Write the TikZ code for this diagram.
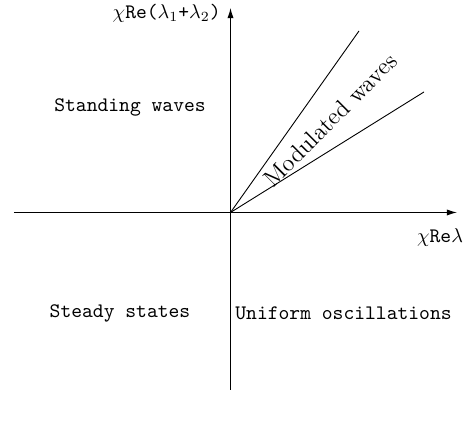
\documentclass[tikz,border=0pt]{standalone}
\usepackage{amsmath,amssymb}
\usepackage{tikz}
\usetikzlibrary{positioning,calc}
\usetikzlibrary{arrows.meta}
\tikzset{
  axis/.style={draw=black,line width=0.5pt,-{Latex[length=1.8mm,width=1.1mm]}},
  border/.style={draw=black,line width=0.45pt},
  region/.style={font=\ttfamily\fontsize{10.3}{12}\selectfont,inner sep=1pt},
  axlabel/.style={font=\ttfamily\fontsize{10.3}{12}\selectfont,inner sep=1pt},
}

\begin{document}
\begin{tikzpicture}[scale=1]
\useasboundingbox (-4.051,-3.699) rectangle (4.191,3.734);
\coordinate (O) at (0,0);
\coordinate (xl) at (-3.805,0);
\coordinate (xr) at (3.98,0);
\coordinate (yb) at (0,-3.119);
\coordinate (yt) at (0,3.594);
\coordinate (ma) at (2.258,3.190);
\coordinate (mb) at (3.400,2.118);
\draw[axis] (xl)--(xr);
\draw[axis] (yb)--(yt);
\draw[border] (O)--(ma);
\draw[border] (O)--(mb);
\node[axlabel,anchor=east] (ylab) at (-0.132,3.506) {$\chi$Re($\lambda_1$+$\lambda_2$)};
\node[axlabel] (xlab) at (3.682,-0.431) {$\chi$Re$\lambda$};
\node[region] (standing) at (-1.766,1.854) {Standing waves};
\node[region] (steady) at (-1.942,-1.766) {Steady states};
\node[region] (uniform) at (1.986,-1.766) {Uniform oscillations};
\node[font=\rmfamily\fontsize{12}{14}\selectfont,rotate=45,inner sep=1pt] (modulated) at (1.749,1.626) {Modulated waves};
\end{tikzpicture}
\end{document}
